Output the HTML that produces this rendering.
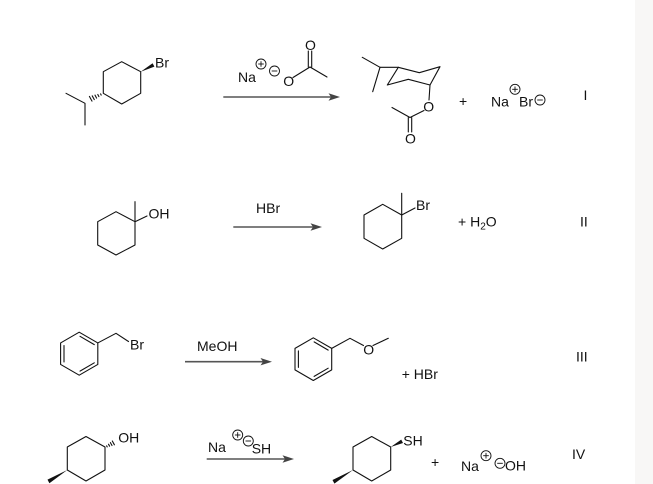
<!DOCTYPE html>
<html><head><meta charset="utf-8"><style>
html,body{margin:0;padding:0;background:#fff;}
svg{display:block;}
text{font-family:"Liberation Sans",Arial,sans-serif;font-size:14px;fill:#111;}
</style></head><body>
<svg width="653" height="484" viewBox="0 0 653 484" xmlns="http://www.w3.org/2000/svg">
<rect x="0" y="0" width="653" height="484" fill="#fff"/>
<rect x="635" y="0" width="18" height="484" fill="#f8f7f6"/>
<defs>
<g id="pc"><circle cx="0" cy="0" r="5" fill="none" stroke="#111" stroke-width="0.9"/><line x1="-2.8" y1="0" x2="2.8" y2="0" stroke="#111" stroke-width="0.9"/><line x1="0" y1="-2.8" x2="0" y2="2.8" stroke="#111" stroke-width="0.9"/></g>
<g id="mc"><circle cx="0" cy="0" r="5" fill="none" stroke="#111" stroke-width="0.9"/><line x1="-2.8" y1="0" x2="2.8" y2="0" stroke="#111" stroke-width="0.9"/></g>
</defs>

<g stroke="#111" stroke-width="1.1" fill="none" stroke-linecap="round" stroke-linejoin="round">
<!-- Row I reactant -->
<polygon points="103.3,71.7 121.7,61.7 140.7,71.7 140.7,93.3 121.7,104 103.3,93.3"/>
<polyline points="66,93.3 85,103.3 85,125"/>
<line x1="100.6" y1="93.9" x2="101.2" y2="95.1"/>
<line x1="97.8" y1="94.5" x2="98.9" y2="96.6"/>
<line x1="95.0" y1="95.1" x2="96.6" y2="98.1"/>
<line x1="92.2" y1="95.8" x2="94.3" y2="99.6"/>
<line x1="89.4" y1="96.4" x2="92.0" y2="101.1"/>
<!-- Reagent I acetate -->
<line x1="293" y1="77.5" x2="310" y2="67"/>
<line x1="310" y1="67" x2="327" y2="77"/>
<line x1="308.3" y1="67" x2="308.3" y2="51"/>
<line x1="311.7" y1="67" x2="311.7" y2="51"/>
<!-- Product I chair -->
<polygon points="398.3,67.3 419.3,72.7 440,66.7 430,85 408.3,79.3 387.3,85"/>
<polyline points="362.3,57.3 380,67.3 398.3,67.3"/>
<line x1="380" y1="67.3" x2="372.7" y2="91.7"/>
<line x1="430" y1="85" x2="429" y2="100"/>
<line x1="424" y1="110.5" x2="410" y2="117.5"/>
<line x1="410" y1="117.5" x2="392" y2="107.5"/>
<line x1="408.3" y1="117.5" x2="408.3" y2="132"/>
<line x1="411.7" y1="117.5" x2="411.7" y2="132"/>

<!-- Row II reactant -->
<polygon points="135,221.7 116,211.7 97.7,221.7 97.7,245 116,255 135,245"/>
<line x1="135" y1="221.7" x2="135" y2="201.7"/>
<line x1="135" y1="221.7" x2="147" y2="216"/>
<!-- Row II product -->
<polygon points="401.7,215 382.7,204.3 364,215 364,238.3 382.7,249 401.7,238.3"/>
<line x1="401.7" y1="215" x2="401.7" y2="193.3"/>
<line x1="401.7" y1="215" x2="415" y2="208"/>

<!-- Row III reactant benzene -->
<polygon points="79.2,332.2 97.8,342.95 97.8,364.45 79.2,375.2 60.6,364.45 60.6,342.95"/>
<line x1="64" y1="345.5" x2="64" y2="362"/>
<line x1="80" y1="336.3" x2="94.3" y2="344.6"/>
<line x1="94.3" y1="362.8" x2="80" y2="371.1"/>
<polyline points="97.8,342.95 116,333.3 128.5,341.5"/>
<!-- Row III product benzene -->
<polygon points="313.3,337.8 331.7,348.4 331.7,369.9 313.3,380.5 295,369.9 295,348.4"/>
<line x1="298.4" y1="350.9" x2="298.4" y2="367.4"/>
<line x1="314.1" y1="341.9" x2="328.2" y2="350.1"/>
<line x1="328.2" y1="368.2" x2="314.1" y2="376.4"/>
<polyline points="331.7,348.4 350,338.3 363.5,345.5"/>
<line x1="373" y1="345.5" x2="388.3" y2="338.3"/>

<!-- Row IV reactant -->
<polygon points="105,447 86,436.5 67.3,447 67.3,470 86,481 105,470"/>
<line x1="107.2" y1="446.9" x2="106.6" y2="445.8"/>
<line x1="109.6" y1="446.2" x2="108.5" y2="444.2"/>
<line x1="112.0" y1="445.5" x2="110.4" y2="442.6"/>
<line x1="114.4" y1="444.8" x2="112.3" y2="441.0"/>
<!-- Row IV product -->
<polygon points="390.7,447 371.7,436.5 353,447 353,470 371.7,481 390.7,470"/>
</g>

<g fill="#111" stroke="none">
<polygon points="140.7,71.7 152.6,63.3 154.4,66.6"/>
<polygon points="67.3,470 47.5,479.6 49.4,483.2"/>
<polygon points="390.7,447 401.2,439.6 403,443"/>
<polygon points="353,470 332.5,480 334.4,483.6"/>
</g>

<g stroke="#555" stroke-width="1.6">
<line x1="223.3" y1="97" x2="333" y2="97"/>
<line x1="233.3" y1="227" x2="316" y2="227"/>
<line x1="185" y1="361.7" x2="266" y2="361.7"/>
<line x1="206.7" y1="459" x2="288" y2="459"/>
</g>
<g fill="#444" stroke="none">
<polygon points="340,97 328.5,93.3 331,97 328.5,100.7"/>
<polygon points="322,227 310.5,223.3 313,227 310.5,230.7"/>
<polygon points="272,361.7 260.5,358 263,361.7 260.5,365.4"/>
<polygon points="294,459 282.5,455.3 285,459 282.5,462.7"/>
</g>

<text x="155" y="67.5">Br</text>
<text x="238" y="82">Na</text>
<use href="#pc" x="261" y="64"/>
<use href="#mc" x="274.5" y="71"/>
<text x="283.3" y="86">O</text>
<text x="305" y="50">O</text>
<text x="423.3" y="111.5">O</text>
<text x="405" y="143.5">O</text>
<text x="459" y="106">+</text>
<text x="491" y="106.7">Na</text>
<use href="#pc" x="515" y="89.3"/>
<text x="519" y="106.7">Br</text>
<use href="#mc" x="540" y="100"/>
<text x="583.5" y="100">I</text>

<text x="148.5" y="218.3">OH</text>
<text x="256" y="213">HBr</text>
<text x="416" y="210">Br</text>
<text x="458" y="226.5">+ H<tspan font-size="10px" dy="3">2</tspan><tspan dy="-3">O</tspan></text>
<text x="580" y="226.5">II</text>

<text x="130" y="349.3">Br</text>
<text x="197" y="351">MeOH</text>
<text x="363.3" y="354.3">O</text>
<text x="401.7" y="379">+ HBr</text>
<text x="576" y="361.7">III</text>

<text x="118.3" y="442.5">OH</text>
<text x="208" y="452">Na</text>
<use href="#pc" x="237.7" y="435"/>
<use href="#mc" x="248.3" y="441"/>
<text x="251.7" y="453.3">SH</text>
<text x="403.3" y="445.5">SH</text>
<text x="431" y="467">+</text>
<text x="461" y="471">Na</text>
<use href="#pc" x="486" y="455.7"/>
<use href="#mc" x="500" y="463.3"/>
<text x="505" y="470.7">OH</text>
<text x="572" y="459">IV</text>
</svg>
</body></html>
